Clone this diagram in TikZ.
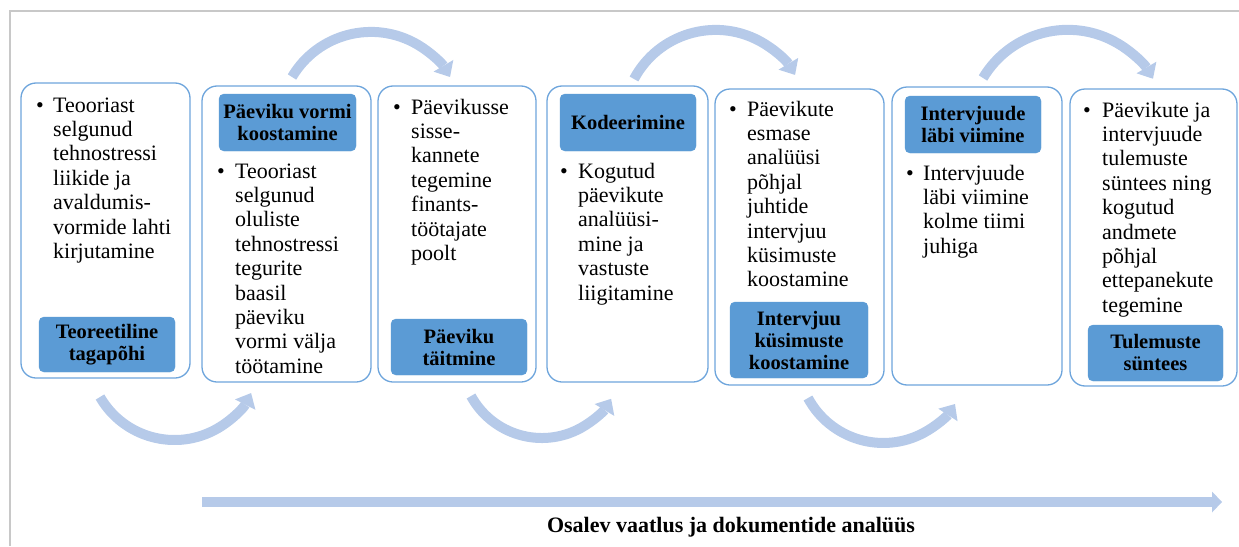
\documentclass[tikz,border=0pt]{standalone}
\usepackage{fontspec}
\setmainfont{Liberation Serif}
\usetikzlibrary{arrows.meta}
\definecolor{boxblue}{RGB}{91,155,213}
\definecolor{panelline}{RGB}{110,165,220}
\definecolor{arcblue}{RGB}{182,202,233}
\definecolor{framegray}{RGB}{200,200,200}
\newcommand\bodyfont{\fontsize{22}{24.4}\selectfont}
\newcommand\tagfont{\fontsize{20.5}{22}\selectfont\bfseries}
\newcommand\captfont{\fontsize{22}{24}\selectfont\bfseries}
\begin{document}
\begin{tikzpicture}[x=1pt,y=-1pt,
  panel/.style={draw=panelline, line width=1.3pt, rounded corners=15pt, fill=white, inner sep=0pt},
  tag/.style={fill=boxblue, draw=boxblue, line width=0.4pt, rounded corners=5pt, align=center, font=\tagfont, inner sep=0pt},
  bodytext/.style={anchor=north west, inner sep=0pt, align=left, font=\bodyfont},
  dot/.style={anchor=base, inner sep=0pt, font=\bodyfont},
  arcarrow/.style={draw=arcblue, line width=10pt, -{Triangle[width=23pt,length=13pt,line width=0pt]}},
  flowarrow/.style={draw=arcblue, line width=10pt, -{Triangle[width=21pt,length=10pt,line width=0pt]}},
]
\useasboundingbox (0,0) rectangle (1239,546);
% frame
\coordinate (fc) at (10,11);
\coordinate (ftr) at (1239,11);
\coordinate (fbl) at (10,546);
\draw[framegray, line width=1.5pt] (ftr) -- (fc) -- (fbl);

% panels
\node[panel, minimum width=169pt, minimum height=295pt] (b1) at (105.5,230.5) {};
\node[panel, minimum width=169pt, minimum height=296pt] (b2) at (286.5,234) {};
\node[panel, minimum width=158pt, minimum height=296pt] (b3) at (457,234) {};
\node[panel, minimum width=161pt, minimum height=296pt] (b4) at (627.5,234) {};
\node[panel, minimum width=169pt, minimum height=296pt] (b5) at (799.5,237) {};
\node[panel, minimum width=170pt, minimum height=298pt] (b6) at (977,236) {};
\node[panel, minimum width=167pt, minimum height=297pt] (b7) at (1153.5,237.5) {};

% tags
\node[tag, minimum width=136pt, minimum height=55pt] (t1) at (107,344.5) {Teoreetiline\\tagapõhi};
\node[tag, minimum width=137pt, minimum height=57pt] (t2) at (287.5,122.5) {Päeviku vormi\\koostamine};
\node[tag, minimum width=136pt, minimum height=56pt] (t3) at (459,347) {Päeviku\\täitmine};
\node[tag, minimum width=136pt, minimum height=57pt] (t4) at (628,122.5) {Kodeerimine};
\node[tag, minimum width=138pt, minimum height=76pt] (t5) at (799,340) {Intervjuu\\küsimuste\\koostamine};
\node[tag, minimum width=136pt, minimum height=57pt] (t6) at (973,124.5) {Intervjuude\\läbi viimine};
\node[tag, minimum width=135pt, minimum height=56pt] (t7) at (1155.5,353) {Tulemuste\\süntees};

% bullets
\node[dot] (d1) at (40,112) {\textbullet};
\node[dot] (d2) at (221,178) {\textbullet};
\node[dot] (d3) at (397,114) {\textbullet};
\node[dot] (d4) at (564,178) {\textbullet};
\node[dot] (d5) at (733,116) {\textbullet};
\node[dot] (d6) at (910,180) {\textbullet};
\node[dot] (d7) at (1087,117) {\textbullet};

% texts
\node[bodytext] (x1) at (53,94.9) {\strut Teooriast\\selgunud\\tehnostressi\\liikide ja\\avaldumis-\\vormide lahti\\kirjutamine};
\node[bodytext] (x2) at (235,160.9) {\strut Teooriast\\selgunud\\oluliste\\tehnostressi\\tegurite\\baasil\\päeviku\\vormi välja\\töötamine};
\node[bodytext] (x3) at (411,96.9) {\strut Päevikusse\\sisse-\\kannete\\tegemine\\finants-\\töötajate\\poolt};
\node[bodytext] (x4) at (578,160.9) {\strut Kogutud\\päevikute\\analüüsi-\\mine ja\\vastuste\\liigitamine};
\node[bodytext] (x5) at (747,98.9) {\strut Päevikute\\esmase\\analüüsi\\põhjal\\juhtide\\intervjuu\\küsimuste\\koostamine};
\node[bodytext] (x6) at (923,162.9) {\strut Intervjuude\\läbi viimine\\kolme tiimi\\juhiga};
\node[bodytext] (x7) at (1102,99.9) {\strut Päevikute ja\\intervjuude\\tulemuste\\süntees ning\\kogutud\\andmete\\põhjal\\ettepanekute\\tegemine};

% curved arrows (bottom)
\coordinate (a1) at (100,397);
\coordinate (a3) at (471,396);
\coordinate (a5) at (808,398);
\draw[arcarrow] (a1) arc[start angle=150, end angle=27, radius=86];
\draw[arcarrow] (a3) arc[start angle=151.3, end angle=31, radius=80.8];
\draw[arcarrow] (a5) arc[start angle=151.7, end angle=33, radius=85.5];
% curved arrows (top)
\coordinate (a2) at (292,77);
\coordinate (a4) at (634,79);
\coordinate (a6) at (983,78);
\draw[arcarrow] (a2) arc[start angle=210.6, end angle=329.4, radius=91.8];
\draw[arcarrow] (a4) arc[start angle=208, end angle=329.1, radius=92.5];
\draw[arcarrow] (a6) arc[start angle=210.8, end angle=329.7, radius=98.7];

% long arrow
\coordinate (ls) at (202,502);
\coordinate (le) at (1222,502);
\draw[flowarrow] (ls) -- (le);
\node[anchor=base, font=\captfont, inner sep=0pt] (cap) at (731,532) {Osalev vaatlus ja dokumentide analüüs};
\end{tikzpicture}
\end{document}
